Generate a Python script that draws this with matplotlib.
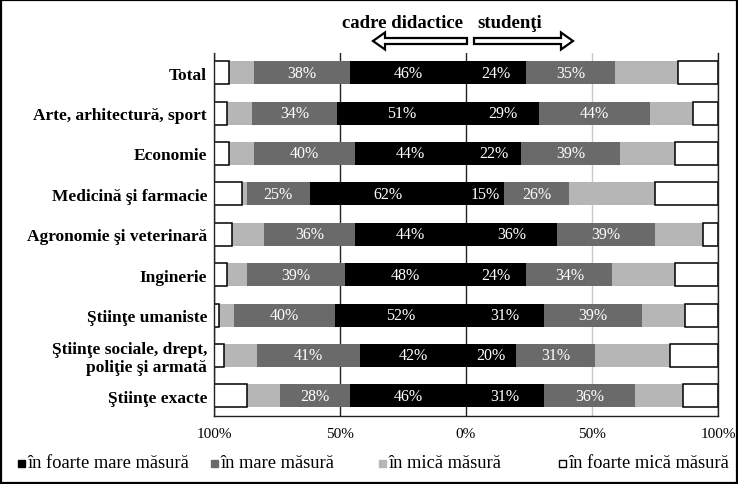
import matplotlib
matplotlib.use('Agg')
import matplotlib.pyplot as plt
import numpy as np
from matplotlib.patches import Rectangle, FancyArrow

plt.rcParams['font.family'] = ['Liberation Serif', 'DejaVu Serif']

# ---------------- data ----------------
categories = ["Total", "Arte, arhitectură, sport", "Economie", "Medicină şi farmacie",
              "Agronomie şi veterinară", "Inginerie", "Ştiinţe umaniste",
              "Ştiinţe sociale, drept,\npoliţie şi armată", "Ştiinţe exacte"]

# cadre didactice (left side)
cd_foarte_mare = [46, 51, 44, 62, 44, 48, 52, 42, 46]
cd_mare        = [38, 34, 40, 25, 36, 39, 40, 41, 28]
cd_mica        = [10, 10, 10, 2, 13, 8, 6, 13, 13]
cd_foarte_mica = [6, 5, 6, 11, 7, 5, 2, 4, 13]

# studenţi (right side)
st_foarte_mare = [24, 29, 22, 15, 36, 24, 31, 20, 31]
st_mare        = [35, 44, 39, 26, 39, 34, 39, 31, 36]
st_mica        = [25, 17, 22, 34, 19, 25, 17, 30, 19]
st_foarte_mica = [16, 10, 17, 25, 6, 17, 13, 19, 14]

legend_labels = ["în foarte mare măsură", "în mare măsură", "în mică măsură", "în foarte mică măsură"]
tick_values = [-100, -50, 0, 50, 100]
tick_labels = ["100%", "50%", "0%", "50%", "100%"]
side_titles = ["cadre didactice", "studenţi"]

colors = ['#000000', '#6a6a6a', '#b6b6b6', '#ffffff']
labelled = [True, True, False, False]

W, H = 738, 485
fig = plt.figure(figsize=(W / 100, H / 100), dpi=100)
ax_l, ax_r, ax_t, ax_b = 214, 718, 53.5, 417
ax = fig.add_axes([ax_l / W, 1 - ax_b / H, (ax_r - ax_l) / W, (ax_b - ax_t) / H])

y = np.arange(len(categories))
bar_h = 0.57

left_series = [cd_foarte_mare, cd_mare, cd_mica, cd_foarte_mica]
right_series = [st_foarte_mare, st_mare, st_mica, st_foarte_mica]

cum = np.zeros(len(categories))
for vals, col, lab in zip(left_series, colors, labelled):
    v = np.array(vals, dtype=float)
    ec = 'black' if col == '#ffffff' else 'none'
    ax.barh(y, -v, left=-cum, height=bar_h, color=col, edgecolor=ec, linewidth=1.1, zorder=2)
    if lab:
        for yi, (c0, vi) in enumerate(zip(cum, v)):
            ax.text(-(c0 + vi / 2), yi, f"{int(vi)}%", color='white', ha='center', va='center',
                    fontsize=11.5, zorder=3)
    cum += v

cum = np.zeros(len(categories))
for vals, col, lab in zip(right_series, colors, labelled):
    v = np.array(vals, dtype=float)
    ec = 'black' if col == '#ffffff' else 'none'
    ax.barh(y, v, left=cum, height=bar_h, color=col, edgecolor=ec, linewidth=1.1, zorder=2)
    if lab:
        for yi, (c0, vi) in enumerate(zip(cum, v)):
            ax.text(c0 + vi / 2, yi, f"{int(vi)}%", color='white', ha='center', va='center',
                    fontsize=11.5, zorder=3)
    cum += v

ax.set_xlim(-100, 100)
ax.set_ylim(len(categories) - 0.5, -0.5)
ax.set_yticks(y)
ax.set_yticklabels(categories, fontweight='bold', fontsize=12.5, linespacing=1.12)
ax.set_xticks(tick_values)
ax.set_xticklabels(tick_labels, fontsize=11)
ax.tick_params(axis='both', length=0)
ax.tick_params(axis='y', pad=5)
ax.tick_params(axis='x', pad=8)

ax.grid(axis='x', zorder=0)
ax.set_axisbelow(True)
grid_colors = ['#222222', '#222222', '#222222', '#c8c8c8', '#222222']
for gl, gc in zip(ax.xaxis.get_gridlines(), grid_colors):
    gl.set_color(gc)
    gl.set_linewidth(1.0)

ax.spines['top'].set_visible(False)
for s in ['left', 'right', 'bottom']:
    ax.spines[s].set_color('#222222')
    ax.spines[s].set_linewidth(1.0)

# overlay in pixel coordinates for header, arrows, legend, border
ov = fig.add_axes([0, 0, 1, 1], zorder=5)
ov.set_xlim(0, W)
ov.set_ylim(H, 0)
ov.axis('off')

ov.text(463, 24, side_titles[0], ha='right', va='center', fontweight='bold', fontsize=13.5)
ov.text(477, 24, side_titles[1], ha='left', va='center', fontweight='bold', fontsize=13.5)
ov.add_patch(FancyArrow(467, 42, -94, 0, width=6, head_width=17, head_length=12,
                        length_includes_head=True, fc='white', ec='black', lw=1.6))
ov.add_patch(FancyArrow(474, 42, 99, 0, width=6, head_width=17, head_length=12,
                        length_includes_head=True, fc='white', ec='black', lw=1.6))

leg_x = [18, 211, 379, 559]
leg_y = 464
for lx, lab, col in zip(leg_x, legend_labels, colors):
    ov.add_patch(Rectangle((lx, leg_y - 3.5), 7, 7, fc=col, ec='black' if col == '#ffffff' else col, lw=1))
    ov.text(lx + 9, leg_y, lab, ha='left', va='center', fontsize=13.3)

ov.add_patch(Rectangle((1, 1), W - 2, H - 2, fill=False, ec='black', lw=1.6))

fig.savefig('out.png', dpi=100)
